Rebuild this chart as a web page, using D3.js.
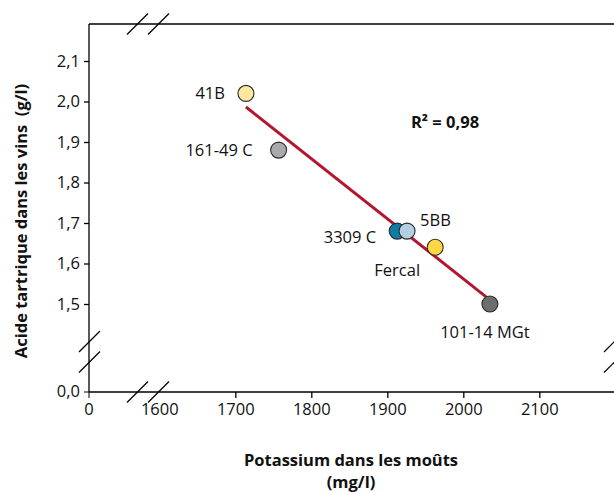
<!DOCTYPE html>
<html>
<head>
<meta charset="utf-8">
<script src="https://d3js.org/d3.v7.min.js"></script>
<style>
  body { margin: 0; background: #fff; }
  svg { display: block; font-family: 'Open Sans', 'Noto Sans', sans-serif; }
</style>
</head>
<body>
<div id="chart"></div>
<script>
// porte-greffes: potassium (mg/l) vs acide tartrique (g/l)
var names = ['41B', '161-49 C', '3309 C', '5BB', 'Fercal', '101-14 MGt']
var potassium = [1714, 1757, 1913, 1926, 1963, 2035]
var tartrique = [2.02, 1.88, 1.68, 1.68, 1.64, 1.50]
var xTicks = [1600, 1700, 1800, 1900, 2000, 2100]
var yTicks = [1.5, 1.6, 1.7, 1.8, 1.9, 2.0, 2.1]
var r2Label = 'R² = 0,98'

var fills = {
    '41B': '#fde6a0',
    '161-49 C': '#a9a9ab',
    '3309 C': '#0f7ca6',
    '5BB': '#b5cee1',
    'Fercal': '#fdd744',
    '101-14 MGt': '#6c6d6f'
}
// label placement relative to point (anchor, dx, dy)
var labelPos = {
    '41B': ['end', -21, 0],
    '161-49 C': ['end', -26, 0],
    '3309 C': ['end', -21, 6],
    '5BB': ['start', 13, -11],
    'Fercal': ['middle', -38, 23],
    '101-14 MGt': ['middle', -5, 28]
}

var W = 614, H = 492
var mLeft = 89, mTop = 24, mBottom = 392, mRight = 614.5
var fs = 16.5

var svg = d3.select('#chart').append('svg').attr('width', W).attr('height', H)

var x = d3.scaleLinear().domain([1600, 2100]).range([159.3, 539.3])
var y = d3.scaleLinear().domain([1.5, 2.1]).range([304, 61])
var fmt = d3.format('.1f')
var comma = v => fmt(v).replace('.', ',')

// frame
var frame = svg.append('g').attr('stroke', '#000').attr('stroke-width', 1.3)
frame.append('line').attr('x1', mLeft).attr('x2', mRight).attr('y1', mTop).attr('y2', mTop)
frame.append('line').attr('x1', mLeft).attr('x2', mLeft).attr('y1', mTop).attr('y2', mBottom)
frame.append('line').attr('x1', mLeft).attr('x2', mRight).attr('y1', mBottom).attr('y2', mBottom)

// axes
var xAxis = svg.append('g')
    .attr('transform', 'translate(0,' + mBottom + ')')
    .call(d3.axisBottom(x).tickValues(xTicks).tickSize(6).tickPadding(5).tickFormat(d3.format('d')))
xAxis.select('.domain').remove()
xAxis.selectAll('.tick').filter(d => d === 1600).select('line').remove()

var yAxis = svg.append('g')
    .attr('transform', 'translate(' + mLeft + ',0)')
    .call(d3.axisLeft(y).tickValues(yTicks).tickSize(5).tickPadding(4).tickFormat(comma))
yAxis.select('.domain').remove()

// zero ticks on the broken part of the axes
var zx = svg.append('g').attr('transform', 'translate(' + mLeft + ',' + mBottom + ')')
zx.append('line').attr('y2', 6).attr('stroke', '#000')
zx.append('text').attr('y', 11).attr('dy', '0.71em').attr('text-anchor', 'middle').text('0')
var zy = svg.append('g').attr('transform', 'translate(' + mLeft + ',' + mBottom + ')')
zy.append('line').attr('x2', -5).attr('stroke', '#000')
zy.append('text').attr('x', -9).attr('dy', '0.32em').attr('text-anchor', 'end').text(comma(0))

svg.selectAll('.tick line').attr('stroke-width', 1.3)
svg.selectAll('g text').attr('font-size', fs).attr('fill', '#111')
    .attr('font-family', "'Open Sans', 'Noto Sans', sans-serif")

// break marks
var breaks = [[137.5, mTop], [158.5, mTop], [137.5, mBottom], [158.5, mBottom],
    [mLeft + 0.5, 341.5], [mLeft + 0.5, 362], [mRight, 341.5], [mRight, 362]]
svg.append('g').selectAll('line').data(breaks).join('line')
    .attr('x1', d => d[0] - 10.5).attr('y1', d => d[1] + 10.5)
    .attr('x2', d => d[0] + 10.5).attr('y2', d => d[1] - 10.5)
    .attr('stroke', '#000').attr('stroke-width', 1.2)

// regression line
var mx = d3.mean(potassium), my = d3.mean(tartrique)
var sxy = d3.sum(potassium, (v, i) => (v - mx) * (tartrique[i] - my))
var sxx = d3.sum(potassium, v => (v - mx) * (v - mx))
var slope = sxy / sxx
var fit = v => my + slope * (v - mx)
var x0 = d3.min(potassium), x1 = d3.max(potassium)
svg.append('line')
    .attr('x1', x(x0)).attr('y1', y(fit(x0)))
    .attr('x2', x(x1)).attr('y2', y(fit(x1)))
    .attr('stroke', '#b3172f').attr('stroke-width', 3)

// points
var data = names.map((n, i) => ({ name: n, k: potassium[i], t: tartrique[i] }))
svg.append('g').selectAll('circle').data(data).join('circle')
    .attr('cx', d => x(d.k)).attr('cy', d => y(d.t)).attr('r', 8)
    .attr('fill', d => fills[d.name]).attr('stroke', '#2a2a2a').attr('stroke-width', 1.1)

svg.append('g').selectAll('text').data(data).join('text')
    .attr('x', d => x(d.k) + labelPos[d.name][1])
    .attr('y', d => y(d.t) + labelPos[d.name][2])
    .attr('dy', '0.35em')
    .attr('text-anchor', d => labelPos[d.name][0])
    .attr('font-size', fs).attr('fill', '#111')
    .text(d => d.name)

svg.append('text').attr('x', 445).attr('y', 128).attr('text-anchor', 'middle')
    .attr('font-size', fs).attr('font-weight', 'bold').attr('fill', '#111')
    .text(r2Label)

// axis titles
svg.append('text').attr('transform', 'translate(27,221) rotate(-90)')
    .attr('text-anchor', 'middle').attr('font-size', fs).attr('font-weight', 'bold').attr('fill', '#111')
    .text('Acide tartrique dans les vins \u00a0(g/l)')
var xt = svg.append('text').attr('text-anchor', 'middle').attr('font-size', fs)
    .attr('font-weight', 'bold').attr('fill', '#111')
xt.append('tspan').attr('x', 351).attr('y', 466).text('Potassium dans les moûts')
xt.append('tspan').attr('x', 351).attr('y', 488).text('(mg/l)')
</script>
</body>
</html>
